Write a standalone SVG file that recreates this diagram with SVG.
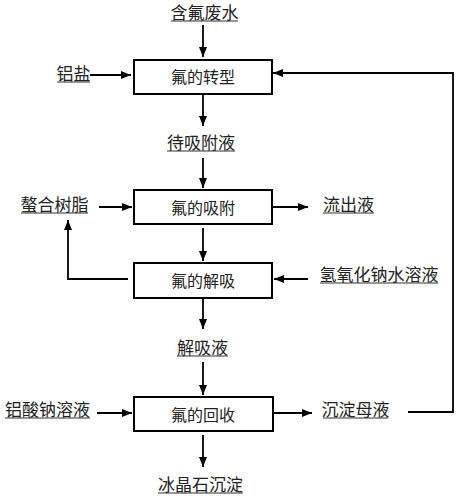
<svg xmlns="http://www.w3.org/2000/svg" width="459" height="500" viewBox="0 0 459 500">
<style>
text{font-family:"Noto Sans CJK SC","Noto Sans",sans-serif;fill:#222;text-anchor:middle}
.lbl{font-size:17px}
.box{font-size:16px}
rect{fill:#fff;stroke:#000;stroke-width:2}
.ul{stroke:#333;stroke-width:1.2}
.c{fill:none;stroke:#000;stroke-width:1.8}
</style>
<defs>
<marker id="ah" markerWidth="10" markerHeight="8" refX="10" refY="4" orient="auto" markerUnits="userSpaceOnUse">
<path d="M0,0 L10,4 L0,8 Z" fill="#000"/>
</marker>
</defs>
<g id="connectors">
<path class="c" d="M203,25 V57" marker-end="url(#ah)"/>
<path class="c" d="M90,75 H131" marker-end="url(#ah)"/>
<path class="c" d="M408,412 H453 V73 H273" marker-end="url(#ah)"/>
<path class="c" d="M203,94 V126" marker-end="url(#ah)"/>
<path class="c" d="M203,158 V188" marker-end="url(#ah)"/>
<path class="c" d="M99,207 H132" marker-end="url(#ah)"/>
<path class="c" d="M272,207 H308" marker-end="url(#ah)"/>
<path class="c" d="M203,228 V261" marker-end="url(#ah)"/>
<path class="c" d="M128,279 H68 V220" marker-end="url(#ah)"/>
<path class="c" d="M308,279 H274" marker-end="url(#ah)"/>
<path class="c" d="M203,298 V329" marker-end="url(#ah)"/>
<path class="c" d="M203,362 V395" marker-end="url(#ah)"/>
<path class="c" d="M97,413 H132" marker-end="url(#ah)"/>
<path class="c" d="M274,413 H312" marker-end="url(#ah)"/>
<path class="c" d="M203,435 V467" marker-end="url(#ah)"/>
</g>
<g id="n-zhuanxing"><rect x="134" y="60" width="138" height="34"/><text class="box" x="203" y="83">氟的转型</text></g>
<g id="n-xifu"><rect x="134" y="190" width="138" height="34"/><text class="box" x="203" y="214">氟的吸附</text></g>
<g id="n-jiexi"><rect x="134" y="263" width="138" height="35"/><text class="box" x="203" y="287">氟的解吸</text></g>
<g id="n-huishou"><rect x="134" y="397" width="139" height="34"/><text class="box" x="203" y="421">氟的回收</text></g>
<g id="l-hanfu"><text class="lbl" x="204.5" y="19">含氟废水</text><line class="ul" x1="171" y1="21" x2="238" y2="21"/></g>
<g id="l-lvyan"><text class="lbl" x="73.5" y="80">铝盐</text><line class="ul" x1="57" y1="82" x2="90" y2="82"/></g>
<g id="l-daixifu"><text class="lbl" x="201" y="149">待吸附液</text><line class="ul" x1="167" y1="151" x2="235" y2="151"/></g>
<g id="l-aohe"><text class="lbl" x="54.5" y="211">螯合树脂</text><line class="ul" x1="21" y1="213" x2="88" y2="213"/></g>
<g id="l-liuchu"><text class="lbl" x="348.5" y="211">流出液</text><line class="ul" x1="323" y1="213" x2="374" y2="213"/></g>
<g id="l-naoh"><text class="lbl" x="379" y="281">氢氧化钠水溶液</text><line class="ul" x1="320" y1="283" x2="438" y2="283"/></g>
<g id="l-jiexiye"><text class="lbl" x="202.5" y="354">解吸液</text><line class="ul" x1="177" y1="356" x2="228" y2="356"/></g>
<g id="l-lvsuan"><text class="lbl" x="47.5" y="416">铝酸钠溶液</text><line class="ul" x1="5" y1="418" x2="90" y2="418"/></g>
<g id="l-chendian"><text class="lbl" x="355.5" y="416">沉淀母液</text><line class="ul" x1="323" y1="418" x2="388" y2="418"/></g>
<g id="l-bingjing"><text class="lbl" x="200.5" y="491">冰晶石沉淀</text><line class="ul" x1="158" y1="493" x2="243" y2="493"/></g>
</svg>
